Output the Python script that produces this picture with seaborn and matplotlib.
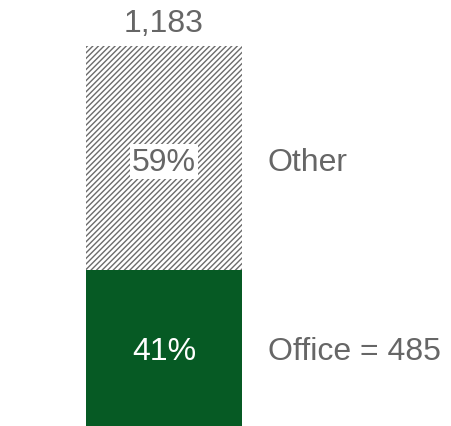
import matplotlib
matplotlib.use("Agg")
import matplotlib.pyplot as plt
import seaborn as sns
import pandas as pd

sns.set_style("white")
plt.rcParams['font.family'] = ['Liberation Sans', 'DejaVu Sans']
plt.rcParams['hatch.linewidth'] = 1.0
plt.rcParams['hatch.color'] = '#6b6b6b'

category = ["All"]
total = [1183]
office = [485]
segment_names = ["Other", "Office"]
shares = [59, 41]

df = pd.DataFrame({"cat": category, "total": total, "office": office})

fig = plt.figure(figsize=(4.52, 4.27), dpi=100)
ax = fig.add_axes([0, 0, 1, 1])

sns.barplot(data=df, x="cat", y="total", ax=ax, color="white", width=0.8,
            edgecolor="none", linewidth=0, hatch="//////")
sns.barplot(data=df, x="cat", y="office", ax=ax, color="#065a24", width=0.8,
            edgecolor="none", linewidth=0, saturation=1)
for p in ax.patches:
    if p.get_height() == total[0]:
        p.set_facecolor("white")
        p.set_edgecolor("#6b6b6b")
        p.set_linewidth(0)

px_per_unit = 380 / total[0]
ax.set_ylim(-0.5 / px_per_unit, 426.5 / px_per_unit)
ax.set_xlim(-164 / 195, (452 - 164) / 195)
ax.axis("off")

grey = "#666666"
fs = 23
other_mid = (office[0] + total[0]) / 2 - 4 / px_per_unit
office_mid = office[0] / 2 - 3 / px_per_unit
ax.text(0, total[0] + 23 / px_per_unit, f"{total[0]:,}", ha="center", va="center",
        color=grey, fontsize=fs)
ax.text(0, other_mid, f"{shares[0]}%", ha="center", va="center", color=grey, fontsize=fs,
        bbox=dict(facecolor="white", edgecolor="none", pad=1.5))
ax.text(0, office_mid, f"{shares[1]}%", ha="center", va="center", color="white", fontsize=fs)
ax.text(104 / 195, other_mid, segment_names[0], ha="left", va="center", color=grey, fontsize=fs)
ax.text(104 / 195, office_mid, f"{segment_names[1]} = {office[0]}", ha="left", va="center",
        color=grey, fontsize=fs)

fig.savefig("out.png", dpi=100)
